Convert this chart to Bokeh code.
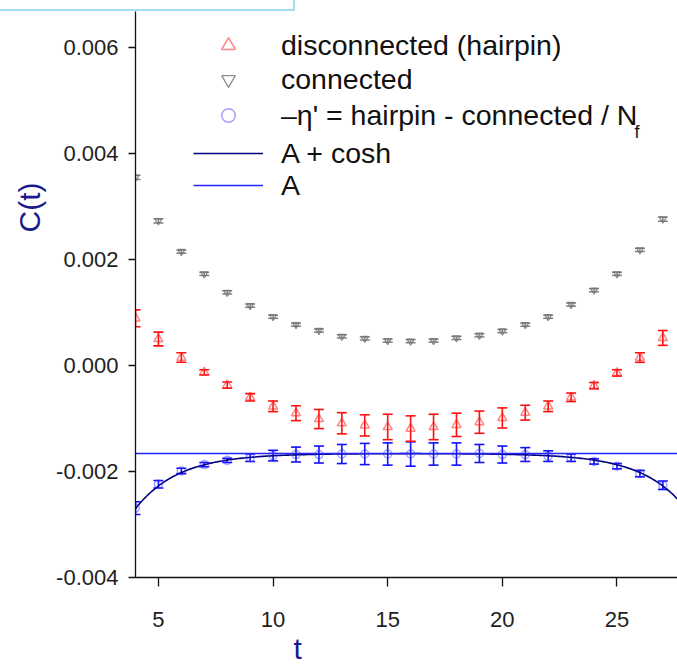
import numpy as np
from bokeh.plotting import figure
from bokeh.models import (ColumnDataSource, Whisker, TeeHead, Legend, LegendItem,
                          Label, Title, Div, FixedTicker, PrintfTickFormatter, Range1d)
from bokeh.layouts import column
from bokeh.embed import file_html
from bokeh.resources import INLINE

# Euclidean time slices
t = list(range(4, 28))

# connected correlator
connected = [0.00355, 0.00273, 0.00215, 0.00173, 0.00138, 0.00113, 0.00092, 0.00077,
             0.00066, 0.00055, 0.00051, 0.00047, 0.00046, 0.00047, 0.00052, 0.00057,
             0.00065, 0.00077, 0.00092, 0.00115, 0.00142, 0.00173, 0.00218, 0.00276]
connected_err = [0.00004, 0.00004, 0.00003, 0.00003, 0.00003, 0.00003, 0.00003, 0.00003,
                 0.00003, 0.00003, 0.00003, 0.00003, 0.00003, 0.00003, 0.00003, 0.00003,
                 0.00003, 0.00003, 0.00003, 0.00003, 0.00003, 0.00003, 0.00003, 0.00004]

# disconnected (hairpin) correlator
hairpin = [0.00089, 0.00050, 0.00015, -0.00013, -0.00037, -0.00060, -0.00077, -0.00090,
           -0.00101, -0.00109, -0.00113, -0.00116, -0.00119, -0.00116, -0.00112, -0.00107,
           -0.00099, -0.00089, -0.00077, -0.00060, -0.00038, -0.00014, 0.00015, 0.00052]
hairpin_err = [0.00016, 0.00013, 0.00009, 0.00005, 0.00006, 0.00007, 0.00010, 0.00014,
               0.00018, 0.00020, 0.00020, 0.00024, 0.00024, 0.00024, 0.00022, 0.00021,
               0.00019, 0.00014, 0.00010, 0.00008, 0.00006, 0.00006, 0.00009, 0.00014]

# eta' = hairpin - connected / N_f
eta = [-0.00269, -0.00224, -0.00199, -0.00187, -0.00179, -0.00174, -0.00170, -0.00168,
       -0.00168, -0.00167, -0.00167, -0.00167, -0.00167, -0.00167, -0.00167, -0.00166,
       -0.00168, -0.00168, -0.00171, -0.00174, -0.00181, -0.00190, -0.00204, -0.00226]
eta_err = [0.00012, 0.00007, 0.00005, 0.00004, 0.00004, 0.00007, 0.00010, 0.00014,
           0.00016, 0.00018, 0.00020, 0.00021, 0.00023, 0.00021, 0.00021, 0.00017,
           0.00016, 0.00013, 0.00010, 0.00007, 0.00005, 0.00005, 0.00006, 0.00008]

# fit parameters: C(t) = A - B cosh(m (t - T/2))
fit_A = -0.00166
fit_B = 3.6e-6
fit_m = 0.53
fit_half_T = 16.0

x_ticks = [5, 10, 15, 20, 25]
y_ticks = [-0.004, -0.002, 0.0, 0.002, 0.004, 0.006]

FONT = "Liberation Sans"
NAVY = "#1a1a8a"
TOP_STRIP = 11          # height of the caption strip above the plot
FRAME_H = 566


def band(vals, errs):
    return ColumnDataSource(dict(t=t, y=vals,
                                 lo=[v - e for v, e in zip(vals, errs)],
                                 hi=[v + e for v, e in zip(vals, errs)]))


src_conn = band(connected, connected_err)
src_hair = band(hairpin, hairpin_err)
src_eta = band(eta, eta_err)

t_fit = np.linspace(4, 28, 300)
c_fit = fit_A - fit_B * np.cosh(fit_m * (t_fit - fit_half_T))

p = figure(frame_width=542, frame_height=FRAME_H, output_backend="svg",
           toolbar_location=None,
           x_range=Range1d(4.0, 27.64), y_range=Range1d(-0.004, 0.006679),
           min_border_left=135, min_border_right=0, min_border_top=0,
           min_border_bottom=0, background_fill_color="white",
           border_fill_color="white", margin=0)
p.outline_line_color = None
p.grid.visible = False

# fit curves
r_cosh = p.line(t_fit, c_fit, line_color="#000080", line_width=1.6)
r_A = p.line([4, 28], [fit_A, fit_A], line_color="#2424ff", line_width=1.5)


def error_bars(src, color, width):
    w = Whisker(base="t", upper="hi", lower="lo", source=src, dimension="height",
                line_color=color, line_width=width,
                upper_head=TeeHead(size=10, line_color=color, line_width=width),
                lower_head=TeeHead(size=10, line_color=color, line_width=width))
    p.add_layout(w)


error_bars(src_eta, "#1010ff", 1.6)
r_eta = p.scatter("t", "y", source=src_eta, marker="circle", size=8,
                  fill_color=None, line_color="#3030ff", line_alpha=0.45, line_width=1.5)

error_bars(src_conn, "#808080", 1.5)
r_conn = p.scatter("t", "y", source=src_conn, marker="inverted_triangle", size=7,
                   fill_color=None, line_color="#707070", line_alpha=0.8, line_width=1.3)

error_bars(src_hair, "#ff1010", 1.6)
r_hair = p.scatter("t", "y", source=src_hair, marker="triangle", size=9,
                   fill_color=None, line_color="#ff2020", line_alpha=0.55, line_width=1.5)

# axes
for ax in (p.xaxis[0], p.yaxis[0]):
    ax.axis_line_color = "#111111"
    ax.axis_line_width = 1.3
    ax.major_tick_line_color = "#111111"
    ax.major_tick_line_width = 1.3
    ax.major_tick_in = 0
    ax.minor_tick_line_color = None
    ax.major_label_text_font = FONT
    ax.major_label_text_font_size = "22px"
    ax.major_label_text_color = "#1e1e1e"

p.xaxis.ticker = FixedTicker(ticks=x_ticks)
p.xaxis.major_tick_out = 9
p.xaxis.major_label_standoff = 25
p.yaxis.ticker = FixedTicker(ticks=y_ticks)
p.yaxis.formatter = PrintfTickFormatter(format="%.3f")
p.yaxis.major_tick_out = 7
p.yaxis.major_label_standoff = 10

# axis titles
p.add_layout(Title(text="C(t)", align="right", offset=171, standoff=16,
                   text_font=FONT, text_font_size="30px", text_font_style="normal",
                   text_color=NAVY), "left")
p.add_layout(Title(text="t", align="left", offset=158, standoff=0,
                   text_font=FONT, text_font_size="30px", text_font_style="normal",
                   text_color=NAVY), "below")

# legend, one entry per row (row centres in page pixels)
entries = [
    ("disconnected (hairpin)", r_hair, 45),
    ("connected", r_conn, 79),
    ("\u2013\u03b7' = hairpin - connected / N", r_eta, 115),
    ("A + cosh", r_cosh, 153),
    ("A", r_A, 185),
]
frame_bottom = TOP_STRIP + FRAME_H
for label, rend, cy in entries:
    leg = Legend(items=[LegendItem(label=label, renderers=[rend])],
                 location=(58, frame_bottom - (cy + 17)),
                 glyph_width=70, glyph_height=34, label_height=34,
                 label_standoff=18, padding=0, margin=0, spacing=0,
                 border_line_color=None, background_fill_alpha=0,
                 label_text_font=FONT, label_text_font_size="28.5px",
                 label_text_color="#111111", label_text_baseline="middle")
    p.add_layout(leg)

# subscript of N_f
p.add_layout(Label(x=634 - 135, y=frame_bottom - 131, x_units="screen", y_units="screen",
                   text="f", text_baseline="alphabetic", text_font=FONT,
                   text_font_size="18px", text_color="#111111"))

# caption strip along the top edge
strip = Div(text="", width=295, height=TOP_STRIP, margin=0,
            styles={"border-right": "2.5px solid #a3dcf5",
                    "border-bottom": "2.5px solid #a3dcf5",
                    "box-sizing": "border-box", "background": "white"})

layout = column(strip, p, spacing=0, margin=0)
open("out.html", "w").write(file_html(layout, INLINE))
